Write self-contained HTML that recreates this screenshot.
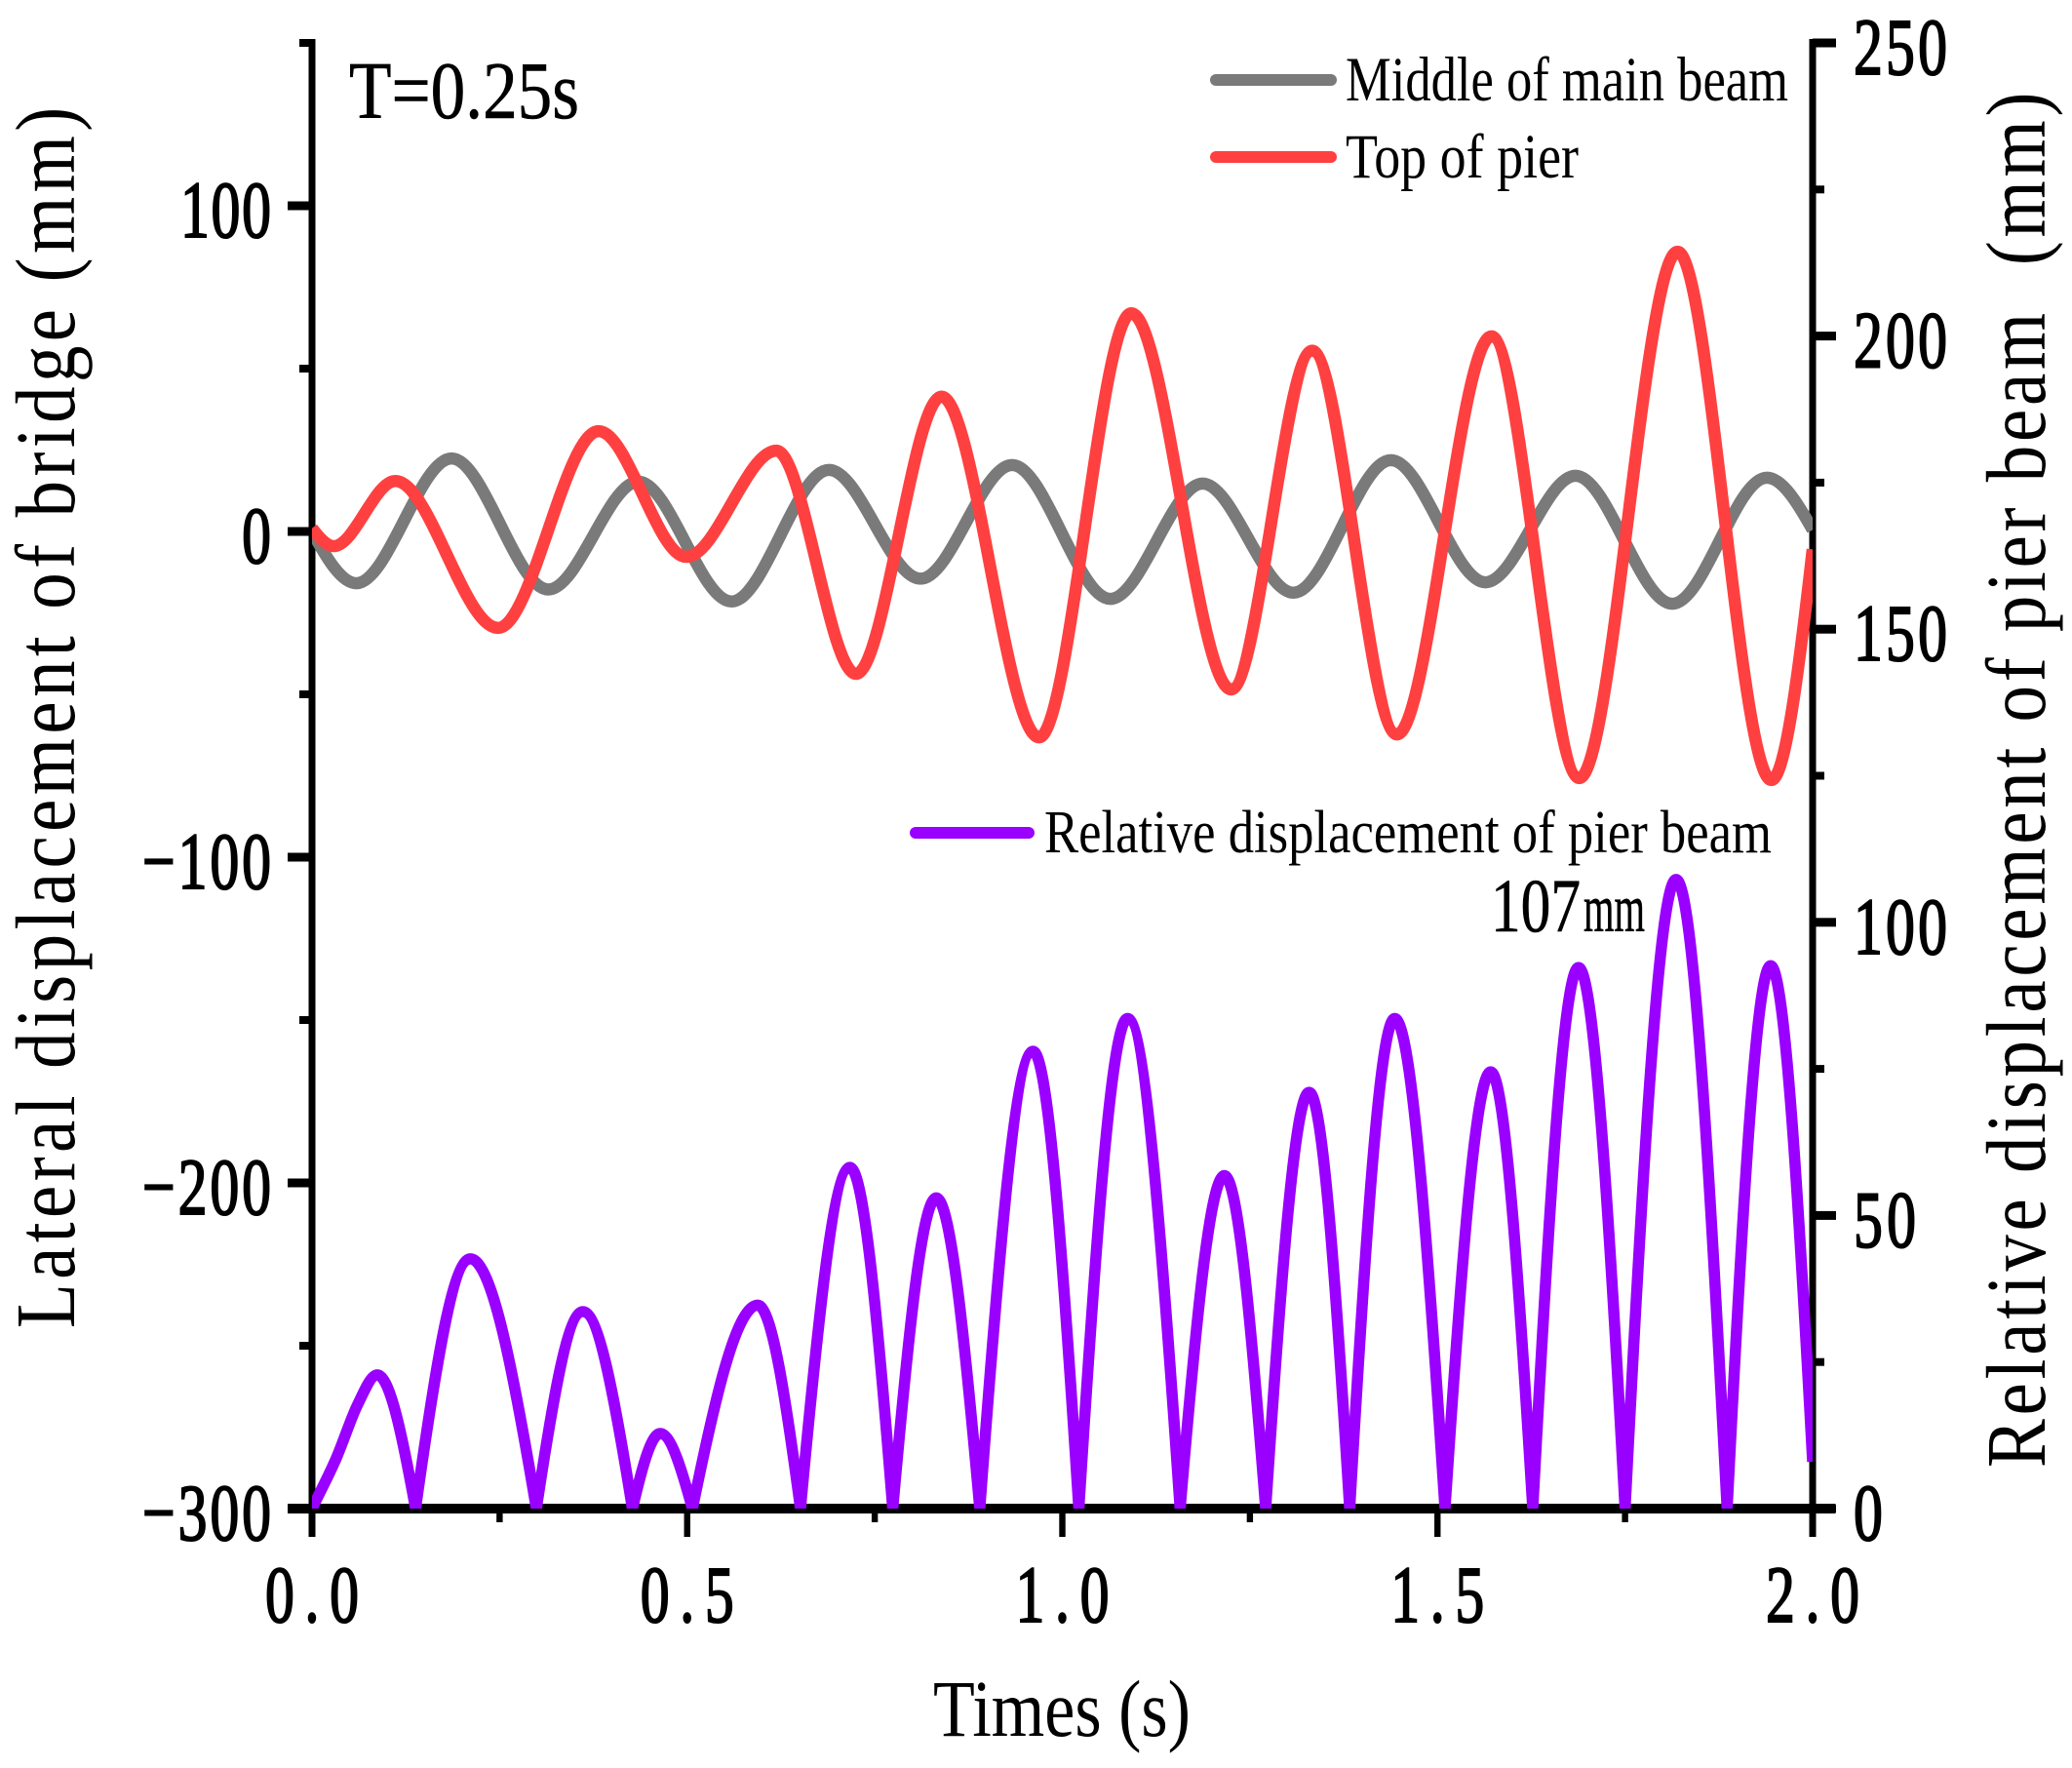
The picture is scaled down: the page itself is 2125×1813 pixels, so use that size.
<!DOCTYPE html>
<html lang="en">
<head>
<meta charset="utf-8">
<title>Lateral and relative displacement, T=0.25s</title>
<style>
html,body{margin:0;padding:0;background:#fff;}
svg{display:block;}
text{font-family:"Liberation Serif","Times New Roman",serif;fill:#000;}
</style>
</head>
<body>
<svg id="chart" xmlns="http://www.w3.org/2000/svg" width="2125" height="1813" viewBox="0 0 2125 1813">
  <defs>
    <clipPath id="plot-clip"><rect x="320" y="40" width="1539" height="1507"></rect></clipPath>
  </defs>
  <rect x="0" y="0" width="2125" height="1813" fill="#fff"></rect>
  <g id="axes"></g>
  <g id="series" clip-path="url(#plot-clip)"></g>

  <text x="358" y="121" font-size="84" textLength="236" lengthAdjust="spacingAndGlyphs" stroke="#000" stroke-width="0.6">T=0.25s</text>

  <line x1="1247" y1="82" x2="1365" y2="82" stroke="#7a7a7a" stroke-width="12" stroke-linecap="round"></line>
  <text x="1380" y="103" font-size="65" textLength="454" lengthAdjust="spacingAndGlyphs">Middle of main beam</text>
  <line x1="1247" y1="161" x2="1365" y2="161" stroke="#ff4040" stroke-width="12" stroke-linecap="round"></line>
  <text x="1380" y="182" font-size="65" textLength="239" lengthAdjust="spacingAndGlyphs">Top of pier</text>
  <line x1="939" y1="854" x2="1055" y2="854" stroke="#9900ff" stroke-width="12" stroke-linecap="round"></line>
  <text x="1071" y="874" font-size="62" textLength="746" lengthAdjust="spacingAndGlyphs">Relative displacement of pier beam</text>

  <g>
    <text x="1529" y="955" font-size="78" textLength="92" lengthAdjust="spacingAndGlyphs" stroke="#000" stroke-width="0.6">107</text>
    <text x="1624" y="955" font-size="70" textLength="63" lengthAdjust="spacingAndGlyphs" stroke="#000" stroke-width="0.6">mm</text>
  </g>

  <g transform="translate(76,1362) rotate(-90) scale(.86,1)">
    <text x="0" y="0" font-size="87" textLength="1456" lengthAdjust="spacing">Lateral displacement of bridge (mm)</text>
  </g>
  <g transform="translate(2097,1505) rotate(-90) scale(.86,1)">
    <text x="0" y="0" font-size="87" textLength="1640" lengthAdjust="spacing">Relative displacement of pier beam &#160;(mm)</text>
  </g>
  <text x="957" y="1780" font-size="83" textLength="264" lengthAdjust="spacingAndGlyphs">Times (s)</text>
</svg>

<script>
const greyTimes = [0, 0.059, 0.186, 0.315, 0.435, 0.559, 0.689, 0.811, 0.933, 1.064, 1.187, 1.308, 1.438, 1.564, 1.684, 1.813, 1.939, 2.0];
const greyValues = [0, -15.9, 22.4, -17.8, 15.3, -21.5, 18.9, -14.5, 20.4, -20.7, 14.7, -18.8, 21.9, -15.6, 17.1, -22.2, 16.5, 0.5];

const redTimes = [0, 0.029, 0.111, 0.248, 0.382, 0.499, 0.619, 0.725, 0.839, 0.969, 1.092, 1.225, 1.333, 1.446, 1.572, 1.689, 1.82, 1.945, 2.0];
const redValues = [1, -4.5, 15.5, -29.6, 30.8, -7.8, 24.8, -43.7, 41.4, -63.2, 67, -48.5, 55.5, -62.3, 59.9, -75.7, 85.9, -76.3, -5.5];

const purpleTimes = [0, 0.032, 0.061, 0.087, 0.138, 0.211, 0.299, 0.361, 0.427, 0.464, 0.507, 0.594, 0.651, 0.717, 0.774, 0.832, 0.89, 0.961, 1.022, 1.087, 1.157, 1.216, 1.271, 1.329, 1.383, 1.443, 1.51, 1.571, 1.627, 1.688, 1.75, 1.818, 1.886, 1.944, 2.0];
const purpleValues = [0, 8.5, 17.8, 22.8, 0, 42.6, 0, 33.6, 0, 12.8, 0, 34.7, 0, 58.2, 0, 53, 0, 78, 0, 83.6, 0, 56.8, 0, 71, 0, 83.6, 0, 74.5, 0, 92.3, 0, 107.3, 0, 92.6, 8];

const xMajorTicks = [0, 0.5, 1.0, 1.5, 2.0];
const xMinorTicks = [0.25, 0.75, 1.25, 1.75];
const xTickLabels = ["0.0", "0.5", "1.0", "1.5", "2.0"];
const leftMajorTicks = [100, 0, -100, -200, -300];
const leftMinorTicks = [150, 50, -50, -150, -250];
const leftTickLabels = ["100", "0", "\u2212100", "\u2212200", "\u2212300"];
const rightMajorTicks = [0, 50, 100, 150, 200, 250];
const rightMinorTicks = [25, 75, 125, 175, 225];
const rightTickLabels = ["0", "50", "100", "150", "200", "250"];

const SVG_NS = "http://www.w3.org/2000/svg";
const xPos = function (t) { return 320 + t * 769.5; };
const yLeft = function (v) { return 545 - v * 3.34; };
const yRight = function (v) { return 1547 - v * 6.012; };

function buildPath(times, values, yFn, cuspAtMinima) {
  const last = times.length - 1;
  function slopeAt(i, h, dv) {
    if (i === last) return (Math.PI / 2) * dv / h;
    if (i === 0) return cuspAtMinima ? dv / h : (Math.PI / 2) * dv / h;
    const isMin = values[i] <= values[i - 1] && values[i] <= values[i + 1];
    const isMax = values[i] >= values[i - 1] && values[i] >= values[i + 1];
    if (isMin && cuspAtMinima) return (Math.PI / 2) * dv / h;
    if (isMin || isMax) return 0;
    return (values[i + 1] - values[i - 1]) / (times[i + 1] - times[i - 1]);
  }
  let d = "M" + xPos(times[0]).toFixed(2) + " " + yFn(values[0]).toFixed(2);
  for (let i = 0; i < last; i++) {
    const h = times[i + 1] - times[i];
    const dv = values[i + 1] - values[i];
    const m0 = slopeAt(i, h, dv);
    const m1 = slopeAt(i + 1, h, dv);
    d += "C" + xPos(times[i] + h / 3).toFixed(2) + " " + yFn(values[i] + m0 * h / 3).toFixed(2) +
         " " + xPos(times[i + 1] - h / 3).toFixed(2) + " " + yFn(values[i + 1] - m1 * h / 3).toFixed(2) +
         " " + xPos(times[i + 1]).toFixed(2) + " " + yFn(values[i + 1]).toFixed(2);
  }
  return d;
}

const seriesGroup = document.getElementById("series");
const axesGroup = document.getElementById("axes");

function addSeries(name, times, values, yFn, color, cusp, width) {
  const p = document.createElementNS(SVG_NS, "path");
  p.setAttribute("d", buildPath(times, values, yFn, cusp));
  p.setAttribute("fill", "none");
  p.setAttribute("stroke", color);
  p.setAttribute("stroke-width", width);
  p.setAttribute("stroke-linejoin", "round");
  
  
  seriesGroup.appendChild(p);
}

addSeries("series-middle-of-main-beam", greyTimes, greyValues, yLeft, "#7a7a7a", false, 12.5);
addSeries("series-top-of-pier", redTimes, redValues, yLeft, "#ff4040", false, 12.5);
addSeries("series-relative-displacement", purpleTimes, purpleValues, yRight, "#9900ff", true, 11.5);

function addRule(name, x, y, w, h) {
  const r = document.createElementNS(SVG_NS, "rect");
  r.setAttribute("x", x);
  r.setAttribute("y", y);
  r.setAttribute("width", w);
  r.setAttribute("height", h);
  r.setAttribute("fill", "#000");
  
  
  axesGroup.appendChild(r);
}

function addLabel(name, x, y, str, width, anchor) {
  const sx = 0.72;
  const g = document.createElementNS(SVG_NS, "text");
  g.setAttribute("transform", "translate(" + x + "," + y + ") scale(" + sx + ",1)");
  g.setAttribute("font-size", "83");
  g.setAttribute("text-anchor", anchor);
  g.setAttribute("textLength", (width / sx).toFixed(1));
  g.setAttribute("lengthAdjust", "spacing");
  g.setAttribute("stroke", "#000");
  g.setAttribute("stroke-width", "2");
  g.textContent = str;
  
  
  axesGroup.appendChild(g);
}

addRule("left-y-axis-line", 316.5, 40, 7, 1536);
addRule("right-y-axis-line", 1855.5, 40, 7, 1536);
addRule("x-axis-line", 295, 1542, 1587, 10);

leftMajorTicks.forEach(function (v, i) {
  addRule("left-major-tick", 295, yLeft(v) - 4.5, 25, 9);
  const str = leftTickLabels[i];
  addLabel("left-tick-label", 278, yLeft(v) + 32, str, str.length === 4 ? 132 : 30 * str.length + (str.length > 1 ? 3 : 0), "end");
});
leftMinorTicks.forEach(function (v) {
  addRule("left-minor-tick", 307, yLeft(v) - 4, 13, 8);
});
rightMajorTicks.forEach(function (v, i) {
  addRule("right-major-tick", 1859, yRight(v) - 4.5, 24, 9);
  const str = rightTickLabels[i];
  addLabel("right-tick-label", 1901, yRight(v) + 32, str, 32 * str.length, "start");
});
rightMinorTicks.forEach(function (v) {
  addRule("right-minor-tick", 1859, yRight(v) - 4, 12, 8);
});
xMajorTicks.forEach(function (t, i) {
  addRule("x-major-tick", xPos(t) - 3.2, 1547, 6.4, 29);
  addLabel("x-tick-label", xPos(t), 1663, xTickLabels[i], 96, "middle");
});
xMinorTicks.forEach(function (t) {
  addRule("x-minor-tick", xPos(t) - 3.2, 1547, 6.4, 14);
});
</script>
</body>
</html>
